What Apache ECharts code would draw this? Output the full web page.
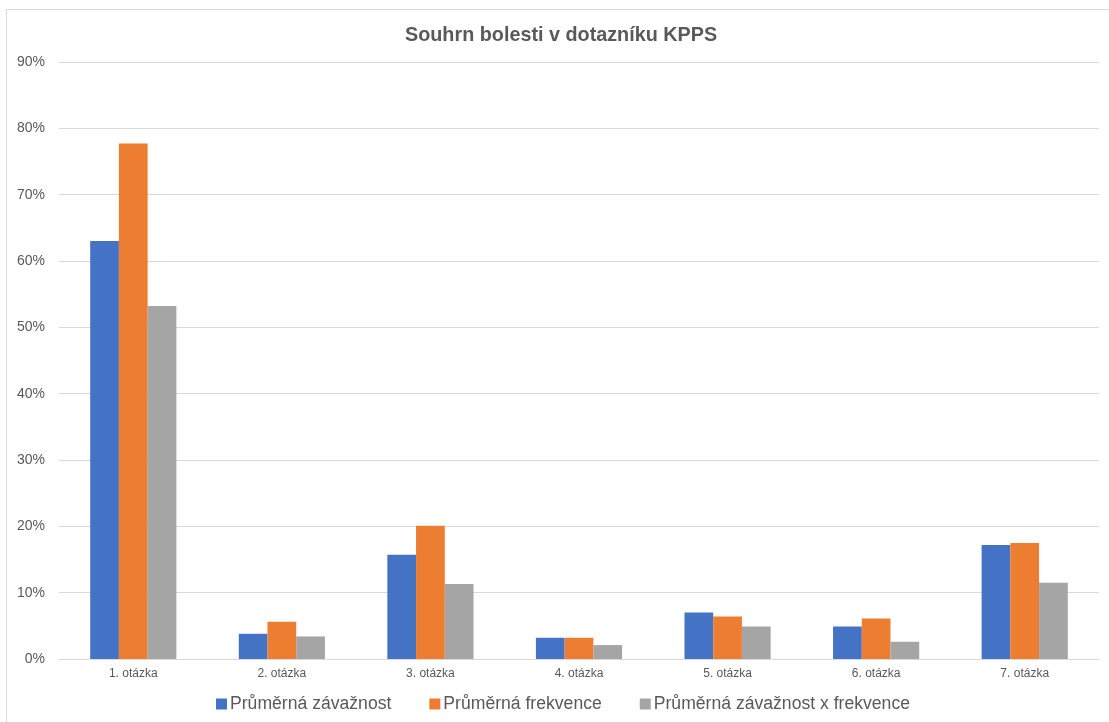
<!DOCTYPE html>
<html>
<head>
<meta charset="utf-8">
<script src="https://cdn.jsdelivr.net/npm/echarts@6/dist/echarts.min.js"></script>
<style>
  html, body { margin: 0; padding: 0; background: #fff; }
  #frame {
    position: absolute; left: 6px; top: 9px; width: 1200px; height: 800px;
    border-top: 1px solid #d9d9d9; border-left: 1px solid #d9d9d9;
  }
  #chart { position: absolute; left: 0; top: 0; width: 1109px; height: 722px; }
</style>
</head>
<body>
<div id="frame"></div>
<div id="chart"></div>
<script>
const categories = ['1. otázka', '2. otázka', '3. otázka', '4. otázka', '5. otázka', '6. otázka', '7. otázka']
const zavaznost = [63.0, 3.8, 15.7, 3.2, 7.0, 4.9, 17.2]
const frekvence = [77.7, 5.6, 20.1, 3.2, 6.4, 6.1, 17.5]
const zavaznostXfrekvence = [53.2, 3.4, 11.3, 2.1, 4.9, 2.6, 11.5]
const seriesNames = ['Průměrná závažnost', 'Průměrná frekvence', 'Průměrná závažnost x frekvence']
const colors = ['#4472c4', '#ed7d31', '#a5a5a5']

const myChart = echarts.init(document.getElementById('chart'))
const textColor = '#595959'
const font = 'Liberation Sans, Arial, sans-serif'

const option = {
  animation: false,
  title: {
    text: 'Souhrn bolesti v dotazníku KPPS',
    left: 400,
    top: 21,
    textStyle: { color: textColor, fontSize: 19.8, fontWeight: 'bold', fontFamily: font },
  },
  legend: {
    top: 690,
    left: 211,
    itemWidth: 11,
    itemHeight: 11,
    itemGap: 38,
    icon: 'rect',
    textStyle: { color: textColor, fontSize: 17.6, fontFamily: font, padding: [0, 0, 0, -2] },
    data: seriesNames,
  },
  grid: { left: 59, right: 10, top: 62, bottom: 63 },
  xAxis: {
    type: 'category',
    data: categories,
    axisLine: { lineStyle: { color: '#d9d9d9', width: 1 } },
    axisTick: { show: false },
    axisLabel: { color: textColor, fontSize: 12, fontFamily: font, margin: 9 },
  },
  yAxis: {
    type: 'value',
    min: 0,
    max: 90,
    interval: 10,
    axisLine: { show: false },
    axisTick: { show: false },
    splitLine: { lineStyle: { color: '#d9d9d9', width: 1 } },
    axisLabel: {
      color: textColor, fontSize: 14, fontFamily: font, margin: 14,
      formatter: (v) => v + '%',
    },
  },
  series: [zavaznost, frekvence, zavaznostXfrekvence].map((d, i) => ({
    name: seriesNames[i],
    type: 'bar',
    data: d,
    barGap: '0%',
    barCategoryGap: '42%',
    itemStyle: { color: colors[i] },
  })),
}
myChart.setOption(option, true)
</script>
</body>
</html>
